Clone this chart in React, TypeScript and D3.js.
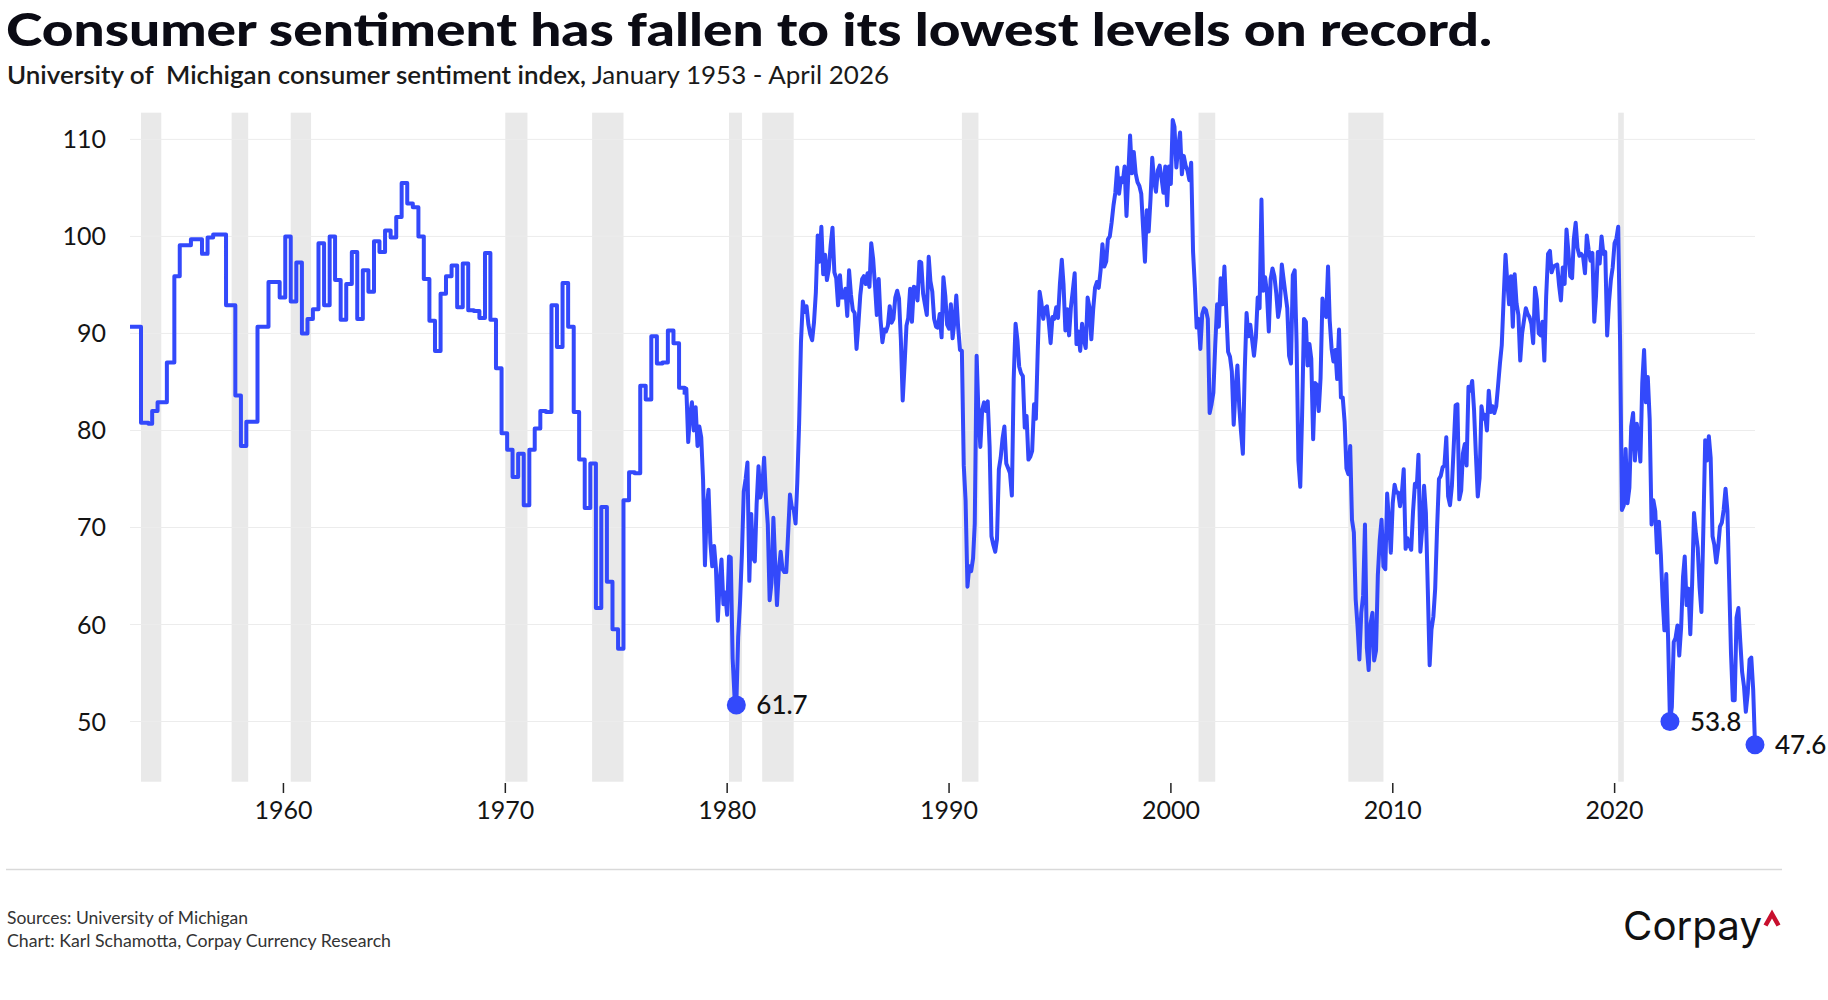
import React, { useEffect } from 'react';
import * as d3 from 'd3';

const WIDTH = 1828;
const HEIGHT = 1000;

// Before 1978 the survey was quarterly; the value holds until the next reading.
const earlyReadings: [string, number][] = [
  ['1953-01', 90.7], ['1953-07', 80.8], ['1953-11', 80.7], ['1954-01', 82.0],
  ['1954-04', 82.9], ['1954-09', 87.0], ['1955-01', 95.9], ['1955-04', 99.1],
  ['1955-10', 99.7], ['1956-04', 98.2], ['1956-07', 99.9], ['1956-10', 100.2],
  ['1957-05', 92.9], ['1957-10', 83.6], ['1958-01', 78.4], ['1958-04', 80.9],
  ['1958-10', 90.7], ['1959-04', 95.3], ['1959-10', 93.7],
  ['1960-01', 100.0], ['1960-04', 93.3], ['1960-07', 97.3], ['1960-10', 90.0],
  ['1961-01', 91.5], ['1961-04', 92.5], ['1961-07', 99.3], ['1961-10', 92.9],
  ['1962-01', 100.0], ['1962-04', 95.5], ['1962-07', 91.4], ['1962-10', 95.1],
  ['1963-01', 98.4], ['1963-04', 91.5], ['1963-07', 96.5], ['1963-10', 94.3],
  ['1964-01', 99.5], ['1964-04', 98.4], ['1964-07', 100.6], ['1964-10', 99.9],
  ['1965-01', 102.0], ['1965-04', 105.5], ['1965-07', 103.4], ['1965-10', 103.0],
  ['1966-01', 100.0], ['1966-04', 95.6], ['1966-07', 91.3], ['1966-10', 88.2],
  ['1967-01', 94.1], ['1967-04', 95.9], ['1967-07', 97.0], ['1967-10', 92.7],
  ['1968-01', 97.2], ['1968-04', 92.4], ['1968-07', 92.3], ['1968-10', 91.6],
  ['1969-01', 98.3], ['1969-04', 91.4], ['1969-07', 86.4], ['1969-10', 79.7],
  ['1970-01', 78.0], ['1970-04', 75.2], ['1970-07', 77.6], ['1970-10', 72.3],
  ['1971-01', 78.0], ['1971-04', 80.2], ['1971-07', 82.0], ['1971-10', 81.9],
  ['1972-01', 92.9], ['1972-04', 88.6], ['1972-07', 95.2], ['1972-10', 90.7],
  ['1973-01', 81.9], ['1973-04', 77.0], ['1973-07', 72.0], ['1973-10', 76.6],
  ['1974-01', 61.7], ['1974-04', 72.1], ['1974-07', 64.4], ['1974-10', 59.5],
  ['1975-01', 57.5], ['1975-04', 72.8], ['1975-07', 75.7], ['1975-10', 75.6],
  ['1976-01', 84.6], ['1976-04', 83.2], ['1976-07', 89.7], ['1976-10', 86.9],
  ['1977-01', 87.0], ['1977-04', 90.3], ['1977-07', 89.0], ['1977-10', 84.4],
];

// Monthly from January 1978 to April 2026
const monthlyStart = { year: 1978, month: 1 };
const monthlyValues: number[] = [
  83.7, 84.3, 78.8, 81.6, 82.9, 80.0, 82.4, 78.4, 80.4, 79.3, 75.0, 66.1,
  72.1, 73.9, 68.4, 66.0, 68.1, 65.8, 60.4, 64.5, 66.7, 62.1, 63.3, 61.0,
  67.0, 66.9, 56.5, 52.7, 51.7, 58.7, 62.3, 67.3, 73.7, 75.0, 76.7, 64.5,
  71.4, 66.9, 66.5, 72.4, 76.3, 73.1, 74.1, 77.2, 73.1, 70.3, 62.5, 64.3,
  71.0, 66.5, 62.0, 65.5, 67.5, 65.7, 65.4, 65.4, 69.3, 73.4, 72.1, 71.9,
  70.4, 74.6, 80.8, 89.1, 93.3, 92.2, 92.8, 90.9, 89.9, 89.3, 91.1, 94.2,
  100.1, 97.4, 101.0, 96.1, 98.1, 95.5, 96.6, 99.1, 100.9, 96.3, 95.7, 92.9,
  96.0, 93.7, 93.7, 94.6, 91.8, 96.5, 94.0, 92.4, 92.1, 88.4, 90.9, 93.9,
  95.6, 95.9, 95.1, 96.2, 94.8, 99.3, 97.7, 94.9, 91.9, 95.6, 91.4, 89.1,
  90.4, 90.2, 90.8, 92.8, 91.1, 91.5, 93.7, 94.4, 93.6, 89.3, 83.1, 86.8,
  90.8, 91.6, 94.6, 91.2, 94.8, 94.7, 93.4, 97.4, 97.3, 94.1, 93.0, 91.9,
  97.9, 95.4, 94.3, 91.5, 90.7, 90.6, 92.0, 89.6, 95.8, 93.9, 90.9, 90.5,
  93.0, 89.5, 91.3, 93.9, 90.6, 88.3, 88.2, 76.4, 72.8, 63.9, 66.0, 65.5,
  66.8, 70.4, 87.7, 81.8, 78.3, 82.1, 82.9, 82.0, 83.0, 78.3, 69.1, 68.2,
  67.5, 68.8, 76.0, 77.2, 79.2, 80.4, 76.6, 76.1, 75.6, 73.3, 85.3, 91.0,
  89.3, 86.6, 85.9, 85.6, 80.3, 81.5, 77.0, 77.3, 77.9, 82.7, 81.2, 88.2,
  94.3, 93.2, 91.5, 92.6, 92.8, 91.2, 89.0, 91.7, 91.5, 92.7, 91.6, 95.1,
  97.6, 95.1, 90.3, 92.5, 89.8, 92.7, 94.4, 96.2, 88.9, 90.2, 88.2, 91.0,
  89.3, 88.5, 93.7, 92.7, 89.4, 92.4, 94.7, 95.3, 94.7, 96.5, 99.2, 96.9,
  97.4, 99.7, 100.0, 101.4, 103.2, 104.5, 107.1, 104.4, 106.0, 105.6, 107.2, 102.1,
  106.6, 110.4, 106.5, 108.7, 106.5, 105.6, 105.2, 104.4, 100.9, 97.4, 102.7, 100.5,
  103.9, 108.1, 105.7, 104.6, 106.8, 107.3, 106.0, 104.5, 107.2, 103.2, 107.2, 105.4,
  112.0, 111.3, 107.1, 109.2, 110.7, 106.4, 108.3, 107.3, 106.8, 105.8, 107.6, 98.4,
  94.7, 90.6, 91.5, 88.4, 92.0, 92.6, 92.4, 91.5, 81.8, 82.7, 83.9, 88.8,
  93.0, 90.7, 95.7, 93.0, 96.9, 92.4, 88.1, 87.6, 86.1, 80.6, 84.2, 86.7,
  82.4, 79.9, 77.6, 86.0, 92.1, 89.7, 90.9, 89.3, 87.7, 89.6, 93.7, 92.6,
  103.8, 94.4, 95.8, 94.2, 90.2, 95.6, 96.7, 95.9, 94.2, 91.7, 92.8, 97.1,
  95.5, 94.1, 92.6, 87.7, 86.9, 96.0, 96.5, 89.1, 76.9, 74.2, 81.6, 91.5,
  91.2, 86.7, 88.9, 87.4, 79.1, 84.9, 84.7, 82.0, 85.4, 93.6, 92.1, 91.7,
  96.9, 91.3, 88.4, 87.1, 88.3, 85.3, 90.4, 83.4, 83.4, 80.9, 76.1, 75.5,
  78.4, 70.8, 69.5, 62.6, 59.8, 56.4, 61.2, 63.0, 70.3, 57.6, 55.3, 60.1,
  61.2, 56.3, 57.3, 65.1, 68.7, 70.8, 66.0, 65.7, 73.5, 70.6, 67.4, 72.5,
  74.4, 73.6, 73.6, 72.2, 73.6, 76.0, 67.8, 68.9, 68.2, 67.7, 71.6, 74.5,
  74.2, 77.5, 67.5, 69.8, 74.3, 71.5, 63.7, 55.8, 59.5, 60.8, 63.7, 69.9,
  75.0, 75.3, 76.2, 76.4, 79.3, 73.2, 72.3, 74.3, 78.3, 82.6, 82.7, 72.9,
  73.8, 77.6, 78.6, 76.4, 84.5, 84.1, 85.1, 82.1, 77.5, 73.2, 75.1, 82.5,
  81.2, 81.6, 80.0, 84.1, 81.9, 82.5, 81.8, 82.5, 84.6, 86.9, 88.8, 93.6,
  98.1, 95.4, 93.0, 95.9, 90.7, 96.1, 93.1, 91.9, 87.2, 90.0, 91.3, 92.6,
  92.0, 91.7, 91.0, 89.0, 94.7, 93.5, 90.0, 89.8, 91.2, 87.2, 93.8, 98.2,
  98.5, 96.3, 96.9, 97.0, 97.1, 95.0, 93.4, 96.8, 95.1, 100.7, 98.5, 95.9,
  95.7, 99.7, 101.4, 98.8, 98.0, 98.2, 97.9, 96.2, 100.1, 98.6, 97.5, 98.3,
  91.2, 93.8, 98.4, 97.2, 100.0, 98.2, 98.4, 89.8, 93.2, 95.5, 96.8, 99.3,
  99.8, 101.0, 89.1, 71.8, 72.3, 78.1, 72.5, 74.1, 80.4, 81.8, 76.9, 80.7,
  79.0, 76.8, 84.9, 88.3, 82.9, 85.5, 81.2, 70.3, 72.8, 71.7, 67.4, 70.6,
  67.2, 62.8, 59.4, 65.2, 58.4, 50.0, 51.5, 58.2, 58.6, 59.9, 56.8, 59.7,
  64.9, 67.0, 62.0, 63.7, 59.0, 64.2, 71.5, 69.4, 67.9, 63.8, 61.3, 69.7,
  79.0, 76.9, 79.4, 77.2, 69.1, 68.2, 66.4, 67.9, 70.1, 70.5, 71.8, 74.0,
  71.7, 64.7, 57.0, 52.2, 52.2, 60.7, 61.7, 58.2, 55.1, 53.6, 51.0, 52.9,
  56.4, 56.6, 53.3, 47.6,
];

// NBER recessions: peak month, trough month
const recessions: [string, string][] = [
  ['1953-07', '1954-05'], ['1957-08', '1958-04'], ['1960-04', '1961-02'],
  ['1969-12', '1970-11'], ['1973-11', '1975-03'], ['1980-01', '1980-07'],
  ['1981-07', '1982-11'], ['1990-07', '1991-03'], ['2001-03', '2001-11'],
  ['2007-12', '2009-06'], ['2020-02', '2020-04'],
];

const yTicks = [50, 60, 70, 80, 90, 100, 110];
const xTickYears = [1960, 1970, 1980, 1990, 2000, 2010, 2020];

// labels as printed on the chart
const callouts: { date: string; label: string }[] = [
  { date: '1980-05', label: '61.7' },
  { date: '2022-06', label: '53.8' },
  { date: '2026-04', label: '47.6' },
];

const LINE = '#3349fb';
const FONT = 'Lato, "Open Sans", sans-serif';

type Pt = { date: Date; value: number };

const monthEnd = (s: string, offset = 0) => {
  const [y, m] = s.split('-').map(Number);
  return new Date(y, m + offset, 0);
};

const monthly: Pt[] = monthlyValues.map((v, i) => ({
  date: new Date(monthlyStart.year, monthlyStart.month + i, 0),
  value: v,
}));
const early: Pt[] = earlyReadings
  .map(([d, v]) => ({ date: monthEnd(d), value: v }))
  .concat([monthly[0]]);

export default function App() {
  useEffect(() => {
    document.body.style.margin = '0';
    document.body.style.overflow = 'hidden';
  }, []);

  const x = d3
    .scaleTime()
    .domain([monthEnd('1953-01'), monthly[monthly.length - 1].date])
    .range([130, 1755]);
  const y = d3.scaleLinear().domain([43.8, 112.75]).range([781.7, 112.7]);

  const [x0, x1] = x.range();
  const [yBottom, yTop] = y.range();

  const stepLine = d3
    .line<Pt>()
    .x((d) => x(d.date))
    .y((d) => y(d.value))
    .curve(d3.curveStepAfter);
  const monthLine = d3
    .line<Pt>()
    .x((d) => x(d.date))
    .y((d) => y(d.value));

  const dots = callouts.map((c) => {
    const t = monthEnd(c.date).getTime();
    const p = monthly.find((m) => m.date.getTime() === t)!;
    return { ...c, cx: x(p.date), cy: y(p.value) };
  });

  return (
    <svg width={WIDTH} height={HEIGHT} style={{ display: 'block', background: '#fff' }} fontFamily={FONT}>
      {/* title block */}
      <text x={6} y={45.5} fontSize={46} fontWeight={900} fill="#0b0b14" textLength={1486} lengthAdjust="spacingAndGlyphs">
        Consumer sentiment has fallen to its lowest levels on record.
      </text>
      <text x={7} y={83.5} fontSize={25} fill="#1a1a1a" textLength={882} lengthAdjust="spacingAndGlyphs" style={{ whiteSpace: 'pre' }}>
        <tspan fontWeight={600}>University of  Michigan consumer sentiment index,</tspan>
        <tspan fontWeight={400}> January 1953 - April 2026</tspan>
      </text>

      {/* recession shading */}
      {recessions.map(([a, b]) => (
        <rect
          key={a}
          x={x(monthEnd(a))}
          width={x(monthEnd(b, 1)) - x(monthEnd(a))}
          y={yTop}
          height={yBottom - yTop}
          fill="#e9e9e9"
        />
      ))}

      {/* grid + y labels */}
      {yTicks.map((t) => (
        <g key={t}>
          <line x1={x0} x2={x1} y1={y(t)} y2={y(t)} stroke="#ececec" strokeWidth={1} />
          <text x={106} y={y(t)} dy="0.36em" textAnchor="end" fontSize={25} fill="#141414">
            {t}
          </text>
        </g>
      ))}

      {/* x axis ticks */}
      {xTickYears.map((yr) => {
        const px = x(new Date(yr, 0, 1));
        return (
          <g key={yr}>
            <line x1={px} x2={px} y1={783} y2={793} stroke="#222" strokeWidth={1.5} />
            <text x={px} y={818.5} textAnchor="middle" fontSize={25} fill="#141414">
              {yr}
            </text>
          </g>
        );
      })}

      {/* series */}
      <path d={stepLine(early) ?? ''} fill="none" stroke={LINE} strokeWidth={4} strokeLinejoin="round" />
      <path d={monthLine(monthly) ?? ''} fill="none" stroke={LINE} strokeWidth={4} strokeLinejoin="round" />

      {dots.map((d) => (
        <g key={d.date}>
          <circle cx={d.cx} cy={d.cy} r={9.5} fill={LINE} />
          <text x={d.cx + 20} y={d.cy} dy="0.36em" fontSize={26} fontWeight={500} fill="#111">
            {d.label}
          </text>
        </g>
      ))}

      {/* footer */}
      <line x1={6} x2={1782} y1={869.5} y2={869.5} stroke="#d9d9d9" strokeWidth={1.5} />
      <text x={7} y={924} fontSize={17} fill="#333" textLength={241} lengthAdjust="spacingAndGlyphs">
        Sources: University of Michigan
      </text>
      <text x={7} y={947} fontSize={17} fill="#333" textLength={384} lengthAdjust="spacingAndGlyphs">
        Chart: Karl Schamotta, Corpay Currency Research
      </text>

      {/* logo */}
      <text x={1623} y={940} fontSize={40} fontFamily="Inter, Lato, sans-serif" fill="#111" textLength={139} lengthAdjust="spacingAndGlyphs">
        Corpay
      </text>
      <path d="M1765.5,925.5 L1772,914 L1778.5,925.5" fill="none" stroke="#c8102e" strokeWidth={4.5} />
    </svg>
  );
}
